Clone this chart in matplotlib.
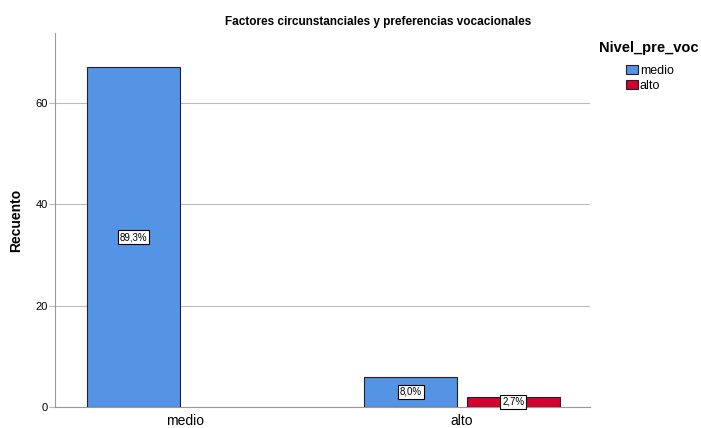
import matplotlib
matplotlib.use('Agg')
import matplotlib.pyplot as plt
from matplotlib.patches import Patch

plt.rcParams['font.family'] = ['Liberation Sans', 'DejaVu Sans']

# - Datos
categorias = ['medio', 'alto']
serie_medio = [67, 6]
serie_alto = [0, 2]
etiquetas_medio = ['89,3%', '8,0%']
etiquetas_alto = [None, '2,7%']
series = ['medio', 'alto']

color_medio = '#5593E4'
color_alto = '#D40030'

fig = plt.figure(figsize=(7.01, 4.28), dpi=100)
ax = fig.add_axes([55/701, 21/428, 535/701, 374/428])

x = range(len(categorias))
ancho = 0.336
desp = 0.185

dic_caja = {'boxstyle': 'square,pad=0.2', 'fc': 'white', 'ec': 'black', 'lw': 0.8}
dic_txt = {'ha': 'center', 'va': 'center', 'fontsize': 7, 'zorder': 5}

for i in x:
    if serie_medio[i] > 0:
        ax.bar(i - desp, serie_medio[i], width=ancho, color=color_medio,
               edgecolor='#222222', lw=0.8, zorder=3)
        ax.text(i - desp, serie_medio[i] / 2, etiquetas_medio[i], bbox=dic_caja, **dic_txt)
    if serie_alto[i] > 0:
        ax.bar(i + desp, serie_alto[i], width=ancho, color=color_alto,
               edgecolor='#222222', lw=0.8, zorder=3)
        ax.text(i + desp, serie_alto[i] / 2, etiquetas_alto[i], bbox=dic_caja, **dic_txt)

ax.set_xlim(-0.469, 1.462)
ax.set_ylim(0, 73.8)
ax.set_yticks([0, 20, 40, 60])
ax.set_xticks(list(x))
ax.set_xticklabels(categorias, fontsize=10)
ax.tick_params(axis='y', labelsize=8, length=4, color='#BBBBBB', pad=1)
ax.tick_params(axis='x', length=0, pad=5)
ax.grid(axis='y', color='#BBBBBB', lw=0.8, zorder=0)

for s in ['top', 'right']:
    ax.spines[s].set_visible(False)
for s in ['left', 'bottom']:
    ax.spines[s].set_color('#999999')
    ax.spines[s].set_linewidth(0.8)

ax.set_ylabel('Recuento', fontsize=10, fontweight='bold')
ax.yaxis.set_label_coords(-(55 - 23)/535, 0.5)

fig.text(378/701, 1 - 22/428, 'Factores circunstanciales y preferencias vocacionales',
         ha='center', va='center', fontsize=8.5, fontweight='bold')

# - Leyenda
fig.text(649/701, 1 - 48/428, 'Nivel_pre_voc', ha='center', va='center',
         fontsize=10.5, fontweight='bold')
handles = [Patch(facecolor=color_medio, edgecolor='#222222', lw=0.8),
           Patch(facecolor=color_alto, edgecolor='#222222', lw=0.8)]
fig.legend(handles, series, loc='upper left', bbox_to_anchor=(626/701, 1 - 65/428),
           frameon=False, fontsize=9, handlelength=0.95, handleheight=0.75,
           handletextpad=0.15, labelspacing=0.25, borderpad=0, borderaxespad=0)

plt.savefig('out.png', dpi=100)
plt.close()
